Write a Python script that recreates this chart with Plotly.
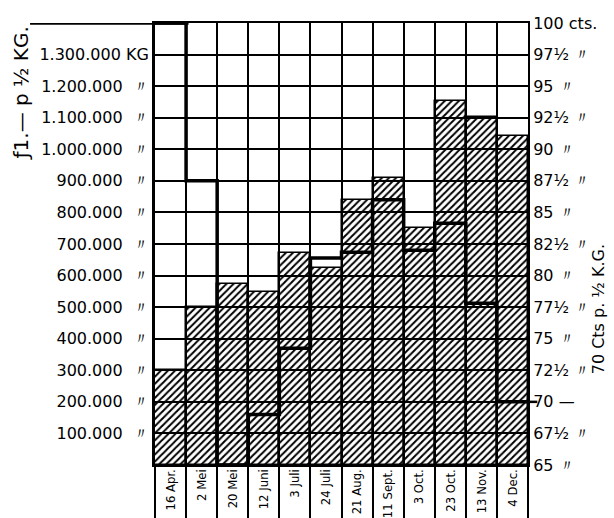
import plotly.graph_objects as go

dates = ["16 Apr.", "2 Mei", "20 Mei", "12 Juni", "3 Juli", "24 Juli",
         "21 Aug.", "11 Sept.", "3 Oct.", "23 Oct.", "13 Nov.", "4 Dec."]
kg = [300000, 500000, 573000, 548000, 672000, 624000,
      839000, 909000, 750000, 1153000, 1102000, 1042000]
cts = [100, 87.5, 65, 69, 74.25, 81.4, 81.85, 86, 82, 84.15, 77.8, 70]

kg_ticks = [100000 * i for i in range(1, 14)]
kg_text = [f"{v // 1000:,}.000".replace(",", ".") + (" KG" if v == 1300000 else "  〃")
           for v in kg_ticks]
cts_ticks = [65 + 2.5 * i for i in range(15)]
def cts_label(v):
    s = str(int(v)) + ("½" if v % 1 else "")
    if v == 100:
        return "100 cts."
    if v == 70:
        return "70 —"
    return s + " 〃"
cts_text = [cts_label(v) for v in cts_ticks]

n = len(dates)
centers = list(range(n))
edges = [i - 0.5 for i in range(n + 1)]

FONT = "DejaVu Sans"

fig = go.Figure()
fig.add_trace(go.Bar(
    x=centers, y=kg, width=1, yaxis="y",
    marker=dict(color="rgba(0,0,0,0)",
                pattern=dict(shape="/", size=5, solidity=0.4, fgcolor="black",
                             bgcolor="rgba(0,0,0,0)", fillmode="replace"),
                line=dict(color="black", width=1.5)),
    showlegend=False, hoverinfo="skip"))
fig.add_trace(go.Scatter(
    x=edges, y=cts + [cts[-1]], yaxis="y2", mode="lines",
    line=dict(shape="hv", color="black", width=3.5),
    cliponaxis=False, showlegend=False, hoverinfo="skip"))

fig.update_layout(
    width=614, height=518,
    margin=dict(l=155, r=86, t=23, b=53),
    paper_bgcolor="white", plot_bgcolor="white",
    font=dict(family=FONT, color="black"),
    bargap=0,
    xaxis=dict(range=[-0.5, n - 0.5], tickmode="array", tickvals=centers,
               ticktext=dates, tickangle=-90, showgrid=False, ticks="", ticklen=0,
               ticklabelstandoff=-3,
               tickfont=dict(family="DejaVu Sans Condensed", size=13),
               showline=True, linecolor="black", linewidth=2, mirror=True,
               zeroline=False, automargin=False,
               minor=dict(tickmode="array", tickvals=edges, ticks="outside",
                          ticklen=53, tickwidth=2, tickcolor="black",
                          showgrid=True, gridcolor="black", gridwidth=2)),
    yaxis=dict(range=[0, 1400000], tickmode="array", tickvals=kg_ticks,
               ticktext=kg_text, showgrid=True, gridcolor="black", gridwidth=2,
               ticks="", tickfont=dict(size=16, family=FONT), automargin=False,
               showline=True, linecolor="black", linewidth=3, zeroline=False),
    yaxis2=dict(range=[65, 100], overlaying="y", side="right", tickmode="array",
                tickvals=cts_ticks, ticktext=cts_text, showgrid=False, ticks="",
                tickfont=dict(size=16, family=FONT), automargin=False,
                showline=True, linecolor="black", linewidth=2, zeroline=False),
)

# decorative reference lines (f1.— at top-left, 70 cts to the right)
fig.add_shape(type="line", xref="paper", yref="y2", x0=-0.335, x1=0.09,
              y0=100, y1=100, line=dict(color="black", width=3.5))
fig.add_shape(type="line", xref="paper", yref="y2", x0=1.0, x1=1.025,
              y0=70, y1=70, line=dict(color="black", width=2.5))

fig.add_annotation(text="ƒ1.— p ½ KG.", xref="paper", yref="paper",
                   x=-0.36, y=0.84, xanchor="center", yanchor="middle",
                   textangle=-90, showarrow=False,
                   font=dict(size=20, family=FONT))
fig.add_annotation(text="70 Cts p. ½ K.G.", xref="paper", yref="paper",
                   x=1.19, y=0.352, xanchor="center", yanchor="middle",
                   textangle=-90, showarrow=False,
                   font=dict(size=16, family=FONT))

fig.write_html("out.html", config={"displayModeBar": False},
               post_script="document.body.style.margin='0';document.body.style.overflow='hidden';")
